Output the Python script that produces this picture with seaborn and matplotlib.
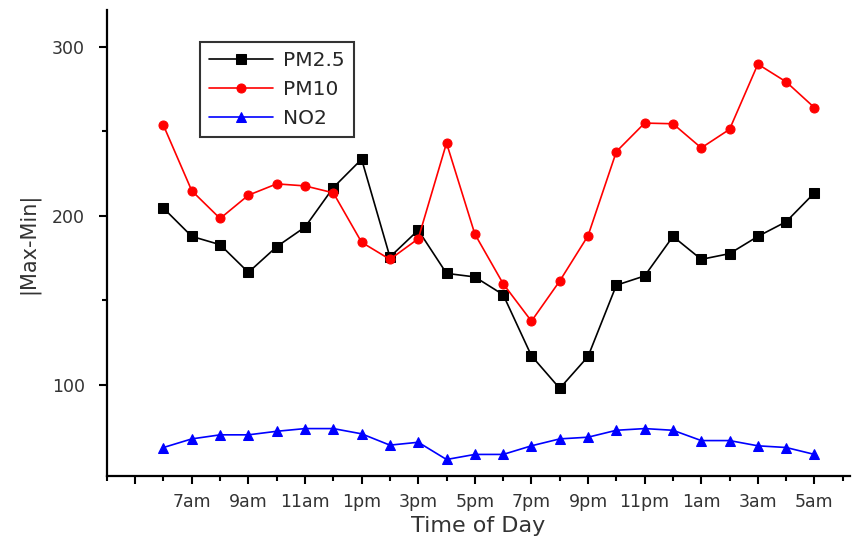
import numpy as np
import pandas as pd
import matplotlib
matplotlib.use("Agg")
import matplotlib.pyplot as plt
import seaborn as sns

sns.set_style("ticks")
plt.rcParams['font.family'] = ['DejaVu Sans']

# hours from 6am (0) to 5am next day (23)
hours = list(range(24))
tick_labels = ['', '7am', '9am', '11am', '1pm', '3pm', '5pm', '7pm', '9pm',
               '11pm', '1am', '3am', '5am']

pm25 = [204.5, 187.8, 182.9, 166.5, 181.7, 193.3, 216.7, 233.5, 175.6, 191.5,
        165.9, 163.8, 153.3, 117.1, 97.8, 116.7, 158.9, 164.4, 187.8, 174.2,
        177.6, 187.8, 196.5, 213.6]
pm10 = [253.5, 214.8, 198.4, 212.2, 218.9, 217.7, 213.6, 184.3, 174.2, 186.4,
        243.1, 189.2, 159.8, 137.6, 161.4, 188.2, 238.0, 254.9, 254.5, 240.2,
        251.2, 289.8, 279.3, 264.0]
no2 = [62.8, 67.9, 70.3, 70.3, 72.4, 74.0, 74.0, 70.9, 64.2, 65.9,
       55.7, 58.7, 58.7, 63.8, 67.9, 68.9, 73.0, 74.0, 73.0, 66.9,
       66.9, 63.8, 62.8, 58.7]

fig = plt.figure(figsize=(8.55, 5.42), dpi=100)
ax = fig.add_axes([0.125, 0.122, 0.869, 0.86])

sns.lineplot(x=hours, y=pm25, ax=ax, color='black', marker='s', markersize=7,
             markeredgecolor='black', linewidth=1.2, label='PM2.5')
sns.lineplot(x=hours, y=pm10, ax=ax, color='red', marker='o', markersize=6.5,
             markeredgecolor='red', linewidth=1.2, label='PM10')
sns.lineplot(x=hours, y=no2, ax=ax, color='blue', marker='^', markersize=7.5,
             markeredgecolor='blue', linewidth=1.2, label='NO2')

ax.set_xlim(-2, 24.25)
ax.set_ylim(46, 322)
ax.set_xticks(np.arange(-1, 24, 2))
ax.set_xticklabels(tick_labels)
ax.set_xticks(np.arange(-2, 25, 2), minor=True)
ax.set_yticks([100, 200, 300])
ax.set_yticks([150, 250], minor=True)

ax.tick_params(axis='both', which='major', direction='out', length=6, width=1.5,
               labelsize=12.5, labelcolor='#333333', color='black')
ax.tick_params(axis='y', which='major', pad=10)
ax.tick_params(axis='x', which='major', pad=6)
ax.tick_params(axis='both', which='minor', direction='out', length=3.5, width=1.5,
               color='black')

for s in ['top', 'right']:
    ax.spines[s].set_visible(False)
for s in ['left', 'bottom']:
    ax.spines[s].set_linewidth(1.6)
    ax.spines[s].set_color('black')

ax.set_xlabel('Time of Day', fontsize=16, color='#333333', labelpad=4)
ax.set_ylabel('|Max-Min|', fontsize=15, color='#333333', labelpad=9)

leg = ax.legend(loc='upper left', bbox_to_anchor=(0.125, 0.931), fontsize=14.5,
                frameon=True, fancybox=False, borderaxespad=0, handlelength=3.2,
                labelspacing=0.5, borderpad=0.45, handletextpad=0.5)
leg.get_frame().set_edgecolor('black')
leg.get_frame().set_linewidth(1.5)

fig.savefig('out.png', dpi=100)
